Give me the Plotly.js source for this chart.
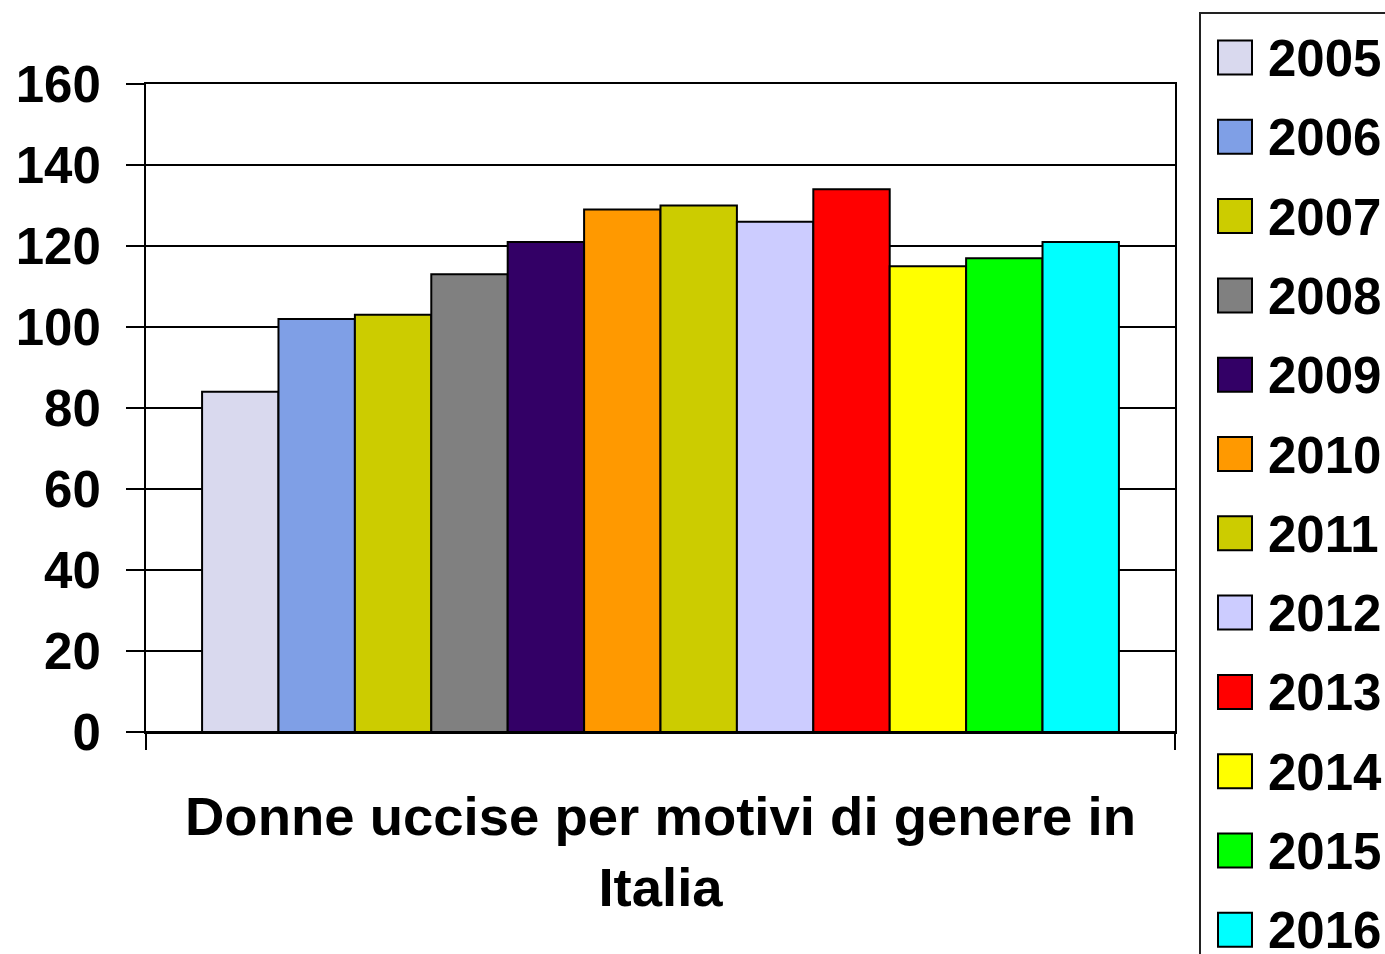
<!DOCTYPE html>
<html>
<head>
<meta charset="utf-8">
<script src="https://cdn.plot.ly/plotly-3.0.1.min.js"></script>
<style>html,body{margin:0;padding:0;background:#fff;overflow:hidden}</style>
</head>
<body>
<div id="chart" style="width:1385px;height:954px"></div>
<script>
const years = ['2005','2006','2007','2008','2009','2010','2011','2012','2013','2014','2015','2016'];
const counts = [84, 102, 103, 113, 121, 129, 130, 126, 134, 115, 117, 121];
const colors = ['#D9D9EE','#7F9FE6','#CCCC00','#808080','#330066','#FF9900','#CCCC00','#CCCCFF','#FF0000','#FFFF00','#00FF00','#00FFFF'];
const category = ['Donne uccise per motivi di genere in<br>Italia'];
const yTicks = [0, 20, 40, 60, 80, 100, 120, 140, 160];

const W = 1385, H = 954;
const M = {l: 146, r: W - 1175, t: 84, b: H - 732};
const pw = W - M.l - M.r, ph = H - M.t - M.b;
const px = v => (v - M.l) / pw;
const py = v => (H - M.b - v) / ph;

const FONT = 'Liberation Sans, Arial, sans-serif';

const traces = years.map((yr, i) => ({
  type: 'bar',
  name: yr,
  x: category,
  y: [counts[i]],
  marker: {color: colors[i], line: {color: '#000', width: 2}},
  hoverinfo: 'name+y'
}));

// manual legend (box, swatches, labels)
const shapes = [{
  type: 'rect', xref: 'paper', yref: 'paper',
  x0: px(1200), x1: px(1420), y0: py(13), y1: py(990),
  line: {color: '#222', width: 2}, fillcolor: 'rgba(0,0,0,0)', layer: 'above'
}];
const annotations = [];
const step = 79.3, c0 = 57.5;
years.forEach((yr, i) => {
  const c = c0 + step * i;
  shapes.push({
    type: 'rect', xref: 'paper', yref: 'paper',
    x0: px(1218), x1: px(1252), y0: py(c + 17), y1: py(c - 17),
    line: {color: '#000', width: 2}, fillcolor: colors[i], layer: 'above'
  });
  annotations.push({
    xref: 'paper', yref: 'paper', x: px(1266), y: py(c + 1),
    xanchor: 'left', yanchor: 'middle', showarrow: false,
    text: yr, font: {family: FONT, size: 51, color: '#000', weight: 'bold'}
  });
});

const layout = {
  width: W, height: H,
  margin: {l: M.l, r: M.r, t: M.t, b: M.b, pad: 0},
  paper_bgcolor: '#fff', plot_bgcolor: '#fff',
  showlegend: false,
  barmode: 'group', bargap: 0.109, bargroupgap: 0,
  font: {family: FONT, color: '#000'},
  xaxis: {
    type: 'category', tickson: 'boundaries',
    ticks: 'outside', ticklen: 16, tickwidth: 2, tickcolor: '#000',
    ticklabelstandoff: 36,
    showline: true, linecolor: '#000', linewidth: 2, mirror: true,
    showgrid: false, zeroline: false,
    tickfont: {family: FONT, size: 54.5, color: '#000', weight: 'bold'},
    fixedrange: true
  },
  yaxis: {
    range: [0, 160], tickvals: yTicks, ticktext: yTicks.map(String),
    ticks: 'outside', ticklen: 18, tickwidth: 2, tickcolor: '#000',
    ticklabelstandoff: 15,
    showline: true, linecolor: '#000', linewidth: 2, mirror: true,
    showgrid: true, gridcolor: '#000', gridwidth: 2,
    zeroline: true, zerolinecolor: '#000', zerolinewidth: 2,
    tickfont: {family: FONT, size: 51, color: '#000', weight: 'bold'},
    fixedrange: true
  },
  shapes: shapes,
  annotations: annotations
};

Plotly.newPlot('chart', traces, layout, {displayModeBar: false, staticPlot: true});
</script>
</body>
</html>
